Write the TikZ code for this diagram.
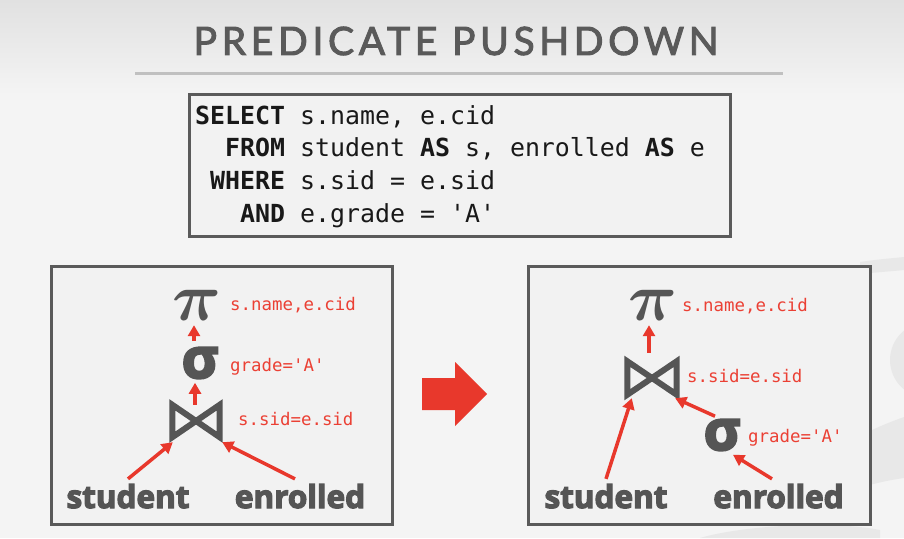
\RequirePackage{fix-cm}
\documentclass[tikz,border=0pt]{standalone}
\usepackage{fontspec}
\usetikzlibrary{arrows.meta}
\setmainfont{Open Sans}
\newfontfamily\titlefont{Lato}[LetterSpace=12,FakeBold=2.5]
\newfontfamily\codefont{DejaVu Sans Mono}
\newfontfamily\heavyfont{Open Sans}[UprightFont=* Bold, FakeBold=4]
\definecolor{bgtop}{RGB}{225,225,225}
\definecolor{bg}{RGB}{244,244,244}
\definecolor{panelfill}{RGB}{242,242,242}
\definecolor{edge}{RGB}{90,90,90}
\definecolor{ink}{RGB}{85,85,85}
\definecolor{accent}{RGB}{232,56,44}
\definecolor{labelred}{RGB}{235,64,52}
\definecolor{rulegray}{RGB}{192,192,192}
\definecolor{wm}{RGB}{232,232,232}
\definecolor{codeink}{RGB}{25,25,25}
\definecolor{titlegray}{RGB}{90,90,90}
\tikzset{
  panel/.style={draw=edge, line width=3pt, fill=panelfill, inner sep=0, anchor=north west},
  opsym/.style={inner sep=0, text=ink},
  pisym/.style={opsym, minimum width=38, minimum height=34, font=\fontsize{68}{68}\selectfont\boldmath},
  sigsym/.style={opsym, minimum width=40, minimum height=30, font=\heavyfont\fontsize{56}{56}\selectfont},
  joinbox/.style={inner sep=0},
  bow/.style={draw=ink, line width=6pt, line join=miter},
  lbl/.style={anchor=base west, inner sep=0, text=labelred, font=\codefont\fontsize{17.4}{17.4}\selectfont},
  rel/.style={anchor=base, inner sep=0, text=ink, font=\heavyfont\fontsize{31.5}{31.5}\selectfont},
  arr/.style={draw=accent, line width=3.5pt, -{Triangle[length=11pt,width=12pt]}},
  codeline/.style={anchor=base west, inner sep=0, text=codeink, font=\codefont\fontsize{24.9}{24.9}\selectfont}
}
\begin{document}
\begin{tikzpicture}[x=1pt,y=-1pt]
\useasboundingbox (0,0) rectangle (904,538);
% background
\fill[bg] (0,0) rectangle (904,538);
\shade[top color=bgtop, bottom color=bg] (0,0) rectangle (904,95);
% faint watermark
\fill[wm] (860,262) .. controls (880,259) and (895,258) .. (904,257) -- (904,270) .. controls (895,271) and (880,272) .. (860,274) -- cycle;
\fill[wm] (928,360) circle (38);
\fill[wm] (860,436) .. controls (875,428) and (890,422) .. (904,417) -- (904,478) .. controls (890,480) and (875,483) .. (860,488) -- cycle;
\fill[wm] (700,538) .. controls (740,526) and (830,520) .. (880,530) -- (880,538) -- cycle;
% title
\node[inner sep=0, text=titlegray, font=\titlefont\fontsize{39}{39}\selectfont] (title) at (456,41) {PREDICATE PUSHDOWN};
\draw[rulegray, line width=3pt] (135,73) -- (783,73);
% SQL box
\node[draw=edge, line width=3pt, fill=panelfill, inner sep=0, anchor=north west, minimum width=541, minimum height=142] (sql) at (188,93) {};
\node[codeline] (q1) at (195,124.3) {\textbf{SELECT} s.name, e.cid};
\node[codeline] (q2) at (195,156.7) {\phantom{SE}\textbf{FROM} student \textbf{AS} s, enrolled \textbf{AS} e};
\node[codeline] (q3) at (195,189) {\phantom{S}\textbf{WHERE} s.sid = e.sid};
\node[codeline] (q4) at (195,222) {\phantom{SEL}\textbf{AND} e.grade = 'A'};
% panels
\node[panel, minimum width=341, minimum height=258] (lp) at (50,265) {};
\node[panel, minimum width=342, minimum height=258] (rp) at (527,265) {};
% big arrow
\fill[accent] (422,378) -- (455,378) -- (455,362) -- (487,394) -- (455,426) -- (455,410) -- (422,410) -- cycle;
% ---- left tree
\node[pisym] (pi1) at (197,305) {$\pi$};
\node[sigsym] (sig1) at (200,363) {σ};
\node[joinbox, minimum width=47, minimum height=32] (j1) at (196,421) {};
\draw[bow] (j1.north west) -- (j1.south west) -- (j1.center) -- cycle
           (j1.north east) -- (j1.south east) -- (j1.center) -- cycle;
\node[rel] (stu1) at (128,508) {student};
\node[rel] (enr1) at (300,508) {enrolled};
\node[lbl] (l1a) at (230,310.7) {s.name,e.cid};
\node[lbl] (l1b) at (230,371) {grade='A'};
\node[lbl] (l1c) at (238,425.7) {s.sid=e.sid};
\draw[arr] ([shift={(-6,-6)}]sig1.north) -- ([shift={(-3,3)}]pi1.south);
\draw[arr] ([shift={(-1,0)}]j1.north) -- ([shift={(-5,4)}]sig1.south);
\draw[arr] ([shift={(0,-5)}]stu1.north) -- ([shift={(0.5,5)}]j1.south west);
\draw[arr] ([shift={(-5,-5)}]enr1.north) -- ([shift={(2.5,5)}]j1.south east);
% ---- right tree
\node[pisym] (pi2) at (653,305) {$\pi$};
\node[joinbox, minimum width=49, minimum height=33] (j2) at (652,378) {};
\draw[bow] (j2.north west) -- (j2.south west) -- (j2.center) -- cycle
           (j2.north east) -- (j2.south east) -- (j2.center) -- cycle;
\node[sigsym] (sig2) at (722,435) {σ};
\node[rel] (stu2) at (606,508) {student};
\node[rel] (enr2) at (778.5,508) {enrolled};
\node[lbl] (l2a) at (682,311) {s.name,e.cid};
\node[lbl] (l2b) at (687,382.7) {s.sid=e.sid};
\node[lbl] (l2c) at (748,442.7) {grade='A'};
\draw[arr] ([shift={(-3,-8.5)}]j2.north) -- ([shift={(-4,3)}]pi2.south);
\draw[arr] ([shift={(0,-5)}]stu2.north) -- ([shift={(4.5,3.5)}]j2.south west);
\draw[arr] ([shift={(-7,-3)}]sig2.north) -- ([shift={(-1.5,3.5)}]j2.south east);
\draw[arr] ([shift={(-6.5,-5)}]enr2.north) -- ([shift={(11,4)}]sig2.south);
\end{tikzpicture}
\end{document}
